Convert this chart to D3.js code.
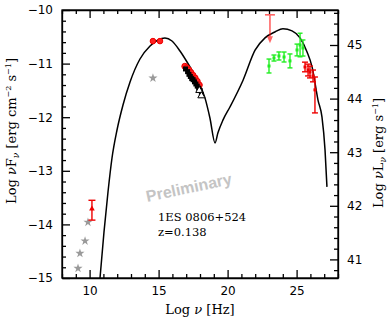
<!DOCTYPE html>
<html>
<head>
<meta charset="utf-8">
<script src="https://cdn.jsdelivr.net/npm/d3@7"></script>
<style>
  body { margin: 0; background: #fff; }
  svg { display: block; }
  .tick text { font-family: "DejaVu Sans", sans-serif; font-size: 12px; fill: #000; }
  .tick line, .domain { stroke: #000; stroke-width: 1.3px; }
</style>
</head>
<body>
<svg id="viz" width="389" height="319"></svg>
<script>
// model curve (log nu, log nuFnu)
var modelNu   = [10.754, 11.043, 11.333, 11.623, 11.986, 12.42, 12.93, 13.65, 14.38, 14.957, 15.46,
                 15.97, 16.55, 17.06, 17.64, 18.36, 18.72, 19.09, 19.30, 19.67, 20.17, 21.12, 21.99,
                 22.71, 23.43, 24.01, 24.67, 25.25, 25.75, 26.12, 26.55, 26.84, 27.06, 27.2];
var modelFlux = [-15.0, -14.142, -13.396, -12.761, -12.239, -11.772, -11.343, -10.914, -10.672, -10.56, -10.522,
                 -10.578, -10.765, -10.97, -11.23, -11.64, -12.015, -12.48, -12.29, -12.05, -11.81, -11.31, -10.75,
                 -10.52, -10.41, -10.35, -10.39, -10.52, -10.78, -11.06, -11.68, -12.0, -12.61, -13.3];

// archival data (gray stars)
var archNu   = [9.16, 9.30, 9.67, 9.88, 14.59];
var archFlux = [-14.82, -14.54, -14.31, -13.96, -11.27];

// radio point with error
var radioNu = [10.17], radioFlux = [-13.71], radioLo = [-13.92], radioHi = [-13.55];

// optical / UV (red circles)
var optNu   = [14.59, 15.1];
var optFlux = [-10.58, -10.58];

// X-ray, red circles
var xrtNu   = [16.9, 17.05, 17.2, 17.35, 17.5, 17.65, 17.8, 17.95];
var xrtFlux = [-11.05, -11.08, -11.12, -11.17, -11.22, -11.27, -11.33, -11.4];

// X-ray, black squares
var xNu   = [16.95, 17.1, 17.2, 17.3, 17.4, 17.5, 17.6, 17.7, 17.8, 17.9, 18.0, 18.1];
var xFlux = [-11.1, -11.15, -11.2, -11.24, -11.28, -11.3, -11.34, -11.38, -11.42, -11.46, -11.5, -11.58];

// X-ray, open triangles
var triNu = [17.95, 18.1], triFlux = [-11.5, -11.6];

// gamma upper limit
var ulNu = [23.07], ulFlux = [-10.09], ulTip = [-10.62];

// Fermi (green)
var fermiNu   = [23.0, 23.36, 23.72, 24.09, 24.52, 25.03, 25.25, 25.46];
var fermiFlux = [-11.045, -10.896, -10.858, -10.877, -10.95, -10.746, -10.653, -10.709];
var fermiErr  = [0.13, 0.056, 0.075, 0.093, 0.13, 0.11, 0.22, 0.15];

// MAGIC (red)
var magicNu   = [25.61, 25.83, 25.97, 26.19, 26.33];
var magicFlux = [-11.063, -11.12, -11.157, -11.23, -11.49];
var magicUp   = [0.09, 0.11, 0.11, 0.11, 0.24];
var magicDn   = [0.09, 0.11, 0.11, 0.11, 0.43];

var xTicks = [10, 15, 20, 25];
var yTicks = [-15, -14, -13, -12, -11, -10];
var rTicks = [41, 42, 43, 44, 45];
var lumOffset = 55.653;   // log nuL_nu - log nuF_nu

var svg = d3.select("#viz");
var L = 62, R = 338, T = 10, B = 278;

var x = d3.scaleLinear().domain([8, 28]).range([L, R]);
var y = d3.scaleLinear().domain([-15, -10]).range([B, T]);
var yR = d3.scaleLinear().domain([-15 + lumOffset, -10 + lumOffset]).range([B, T]);

svg.append("clipPath").attr("id", "clip")
  .append("rect").attr("x", L).attr("y", T).attr("width", R - L).attr("height", B - T);

var minus = function(d) { return d3.format("d")(d).replace("-", "\u2212"); };
var minorX = d3.range(8, 29).filter(function(d) { return xTicks.indexOf(d) < 0; });
var minorY = d3.range(-15, -9.99, 0.2).filter(function(d) { return Math.abs(d - Math.round(d)) > 0.01; });
var minorR = d3.range(40.8, 45.7, 0.2).filter(function(d) { return Math.abs(d - Math.round(d)) > 0.01; });

// axes
function addAxis(axis, tx, ty, keepDomain) {
  var g = svg.append("g").attr("transform", "translate(" + tx + "," + ty + ")").call(axis);
  if (!keepDomain) g.select(".domain").remove();
  return g;
}
addAxis(d3.axisBottom(x).tickValues(xTicks).tickSize(-8).tickPadding(8).tickSizeOuter(0), 0, B, true);
addAxis(d3.axisBottom(x).tickValues(minorX).tickSize(-4).tickFormat(""), 0, B);
addAxis(d3.axisTop(x).tickValues(xTicks).tickSize(-8).tickFormat("").tickSizeOuter(0), 0, T, true);
addAxis(d3.axisTop(x).tickValues(minorX).tickSize(-4).tickFormat(""), 0, T);
addAxis(d3.axisLeft(y).tickValues(yTicks).tickSize(-8).tickPadding(9).tickFormat(minus).tickSizeOuter(0), L, 0, true);
addAxis(d3.axisLeft(y).tickValues(minorY).tickSize(-4).tickFormat(""), L, 0);
addAxis(d3.axisRight(yR).tickValues(rTicks).tickSize(-8).tickPadding(9).tickFormat(d3.format("d")).tickSizeOuter(0), R, 0, true);
addAxis(d3.axisRight(yR).tickValues(minorR).tickSize(-4).tickFormat(""), R, 0);

// axis titles
var serif = "'DejaVu Serif', serif";
svg.append("text").attr("x", 200).attr("y", 314).attr("text-anchor", "middle")
  .style("font-family", serif).style("font-size", "13px")
  .html("Log <tspan font-style='italic'>ν</tspan> [Hz]");

svg.append("text").attr("transform", "translate(16,131) rotate(-90)").attr("text-anchor", "middle")
  .style("font-family", serif).style("font-size", "13px")
  .html("Log <tspan font-style='italic'>ν</tspan>F<tspan font-size='9px' dy='3' font-style='italic'>ν</tspan>" +
        "<tspan dy='-3'> [erg cm</tspan><tspan font-size='8px' dy='-5'>−2</tspan><tspan dy='5'> s</tspan>" +
        "<tspan font-size='8px' dy='-5'>−1</tspan><tspan dy='5'>]</tspan>");

svg.append("text").attr("transform", "translate(383,153) rotate(-90)").attr("text-anchor", "middle")
  .style("font-family", serif).style("font-size", "13px")
  .html("Log <tspan font-style='italic'>ν</tspan>L<tspan font-size='9px' dy='3' font-style='italic'>ν</tspan>" +
        "<tspan dy='-3'> [erg s</tspan><tspan font-size='8px' dy='-5'>−1</tspan><tspan dy='5'>]</tspan>");

// Preliminary stamp
svg.append("text").attr("transform", "translate(190,193) rotate(-12)").attr("text-anchor", "middle")
  .style("font-family", "'Liberation Sans', Arial, sans-serif").style("font-weight", "bold")
  .style("font-size", "16px").style("fill", "#c4c4c4").text("Preliminary");

svg.append("text").attr("x", 158).attr("y", 221)
  .style("font-family", serif).style("font-size", "11.5px").text("1ES 0806+524");
svg.append("text").attr("x", 158).attr("y", 236)
  .style("font-family", serif).style("font-size", "11.5px").text("z=0.138");

var plot = svg.append("g").attr("clip-path", "url(#clip)");

// model
var line = d3.line().x(function(d) { return x(d[0]); }).y(function(d) { return y(d[1]); })
  .curve(d3.curveMonotoneX);
plot.append("path").datum(d3.zip(modelNu, modelFlux)).attr("d", line)
  .attr("fill", "none").attr("stroke", "#000").attr("stroke-width", 1.5);

// gray stars
var star = d3.symbol().type(d3.symbolStar).size(26);
plot.selectAll(".star").data(d3.zip(archNu, archFlux)).enter().append("path")
  .attr("d", star).attr("fill", "#9a9a9a")
  .attr("transform", function(d) { return "translate(" + x(d[0]) + "," + y(d[1]) + ")"; });

// error bar helper
function errBar(g, cx, lo, hi, color, cap) {
  g.append("line").attr("x1", cx).attr("x2", cx).attr("y1", lo).attr("y2", hi)
    .attr("stroke", color).attr("stroke-width", 1.4);
  [lo, hi].forEach(function(v) {
    g.append("line").attr("x1", cx - cap).attr("x2", cx + cap).attr("y1", v).attr("y2", v)
      .attr("stroke", color).attr("stroke-width", 1.4);
  });
}

// radio
radioNu.forEach(function(n, i) {
  errBar(plot, x(n), y(radioLo[i]), y(radioHi[i]), "#ee0000", 3.5);
  plot.append("path").attr("d", d3.symbol().type(d3.symbolTriangle).size(14))
    .attr("fill", "#ee0000").attr("transform", "translate(" + x(n) + "," + y(radioFlux[i]) + ")");
});

// optical
plot.selectAll(".opt").data(d3.zip(optNu, optFlux)).enter().append("circle")
  .attr("cx", function(d) { return x(d[0]); }).attr("cy", function(d) { return y(d[1]); })
  .attr("r", 2.8).attr("fill", "#ff2020").attr("stroke", "#ee0000");

// X-ray red
plot.selectAll(".xrt").data(d3.zip(xrtNu, xrtFlux)).enter().append("circle")
  .attr("cx", function(d) { return x(d[0]); }).attr("cy", function(d) { return y(d[1]); })
  .attr("r", 3).attr("fill", "#ff2020").attr("stroke", "#ee0000");

// X-ray black
plot.selectAll(".xsq").data(d3.zip(xNu, xFlux)).enter().append("rect")
  .attr("x", function(d) { return x(d[0]) - 2.5; }).attr("y", function(d) { return y(d[1]) - 2.5; })
  .attr("width", 5).attr("height", 5).attr("fill", "#000");

plot.selectAll(".xtri").data(d3.zip(triNu, triFlux)).enter().append("path")
  .attr("d", d3.symbol().type(d3.symbolTriangle).size(22))
  .attr("fill", "#fff").attr("stroke", "#000").attr("stroke-width", 1)
  .attr("transform", function(d) { return "translate(" + x(d[0]) + "," + y(d[1]) + ")"; });

// upper limit
ulNu.forEach(function(n, i) {
  var g = plot.append("g").attr("opacity", 0.6);
  var cx = x(n), top = y(ulFlux[i]), tip = y(ulTip[i]);
  g.append("line").attr("x1", cx - 5).attr("x2", cx + 5).attr("y1", top).attr("y2", top)
    .attr("stroke", "#ff0000").attr("stroke-width", 1.6);
  g.append("line").attr("x1", cx).attr("x2", cx).attr("y1", top).attr("y2", tip - 5)
    .attr("stroke", "#ff0000").attr("stroke-width", 1.6);
  g.append("path").attr("d", "M" + (cx - 3) + "," + (tip - 7) + "L" + (cx + 3) + "," + (tip - 7) + "L" + cx + "," + tip + "Z")
    .attr("fill", "#ff0000");
});

// Fermi
fermiNu.forEach(function(n, i) {
  errBar(plot, x(n), y(fermiFlux[i] - fermiErr[i]), y(fermiFlux[i] + fermiErr[i]), "#22ee22", 2.5);
  plot.append("rect").attr("x", x(n) - 1.5).attr("y", y(fermiFlux[i]) - 1.5)
    .attr("width", 3).attr("height", 3).attr("fill", "#22ee22");
});

// MAGIC
magicNu.forEach(function(n, i) {
  errBar(plot, x(n), y(magicFlux[i] - magicDn[i]), y(magicFlux[i] + magicUp[i]), "#ee0000", 3);
  plot.append("rect").attr("x", x(n) - 1.5).attr("y", y(magicFlux[i]) - 1.5)
    .attr("width", 3).attr("height", 3).attr("fill", "#ee0000");
});

// frame on top
svg.append("rect").attr("x", L).attr("y", T).attr("width", R - L).attr("height", B - T)
  .attr("fill", "none").attr("stroke", "#000").attr("stroke-width", 1.3);
</script>
</body>
</html>
